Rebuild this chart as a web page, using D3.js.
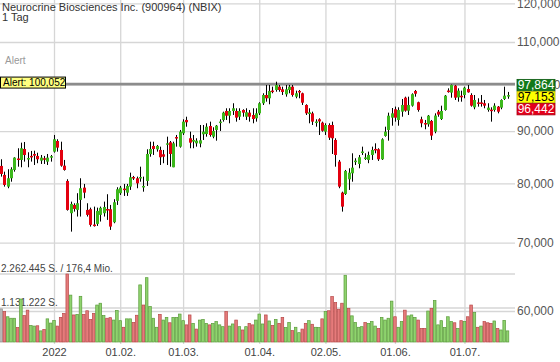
<!DOCTYPE html>
<html>
<head>
<meta charset="utf-8">
<script src="https://cdn.jsdelivr.net/npm/d3@7"></script>
<style>
  body { margin: 0; background: #fff; }
  svg { display: block; font-family: "Liberation Sans", Arial, sans-serif; }
</style>
</head>
<body>
<div id="div1"></div>
<script>
// Daily candles, 09.12.2021 - 21.07.2022 (one entry per trading day)
let opens = [83.2,81.53,79.41,80.92,82.45,84.6,84.33,86.44,84.5,85.1,85.47,85.09,84.2,84.65,84.01,84.95,
  85.92,88.01,86.25,83.25,80.43,74.79,76.2,75.35,77.07,79.23,75.35,75.47,72.9,73.01,74.51,74.79,75.5,75.47,73.29,76.9,
  78.24,79.05,78.34,79.41,81.15,80.92,81.0,79.3,80.43,85.47,87.03,86.38,86.25,85.41,87.55,87.75,82.95,88.8,86.89,89.55,
  92.28,88.55,87.88,87.55,87.5,89.35,89.41,91.03,88.87,90.22,91.85,92.28,94.17,93.17,94.17,94.17,92.96,94.38,92.96,93.81,93.32,92.63,
  93.67,95.82,97.62,96.9,98.6,98.73,99.47,98.88,97.77,98.73,99.47,97.25,98.51,98.0,95.45,93.53,93.67,91.8,92.42,91.72,
  89.88,91.24,91.24,88.21,84.01,78.34,78.11,80.74,81.83,84.05,83.57,85.85,84.7,84.33,85.28,86.45,86.38,84.46,89.01,90.22,92.76,
  94.53,92.28,94.02,97.03,94.23,95.3,98.51,96.04,92.42,91.65,91.38,92.07,89.88,94.02,92.48,94.38,98.6,98.14,99.7,97.1,97.45,
  97.62,98.95,97.62,94.95,96.0,96.0,95.82,94.38,94.45,94.38,95.09,94.88,96.75,97.45];
let highs = [84.46,82.13,82.58,82.95,84.85,86.58,87.68,87.81,85.8,86.06,86.11,85.72,85.28,85.09,85.47,85.28,
  89.21,88.35,87.87,84.33,80.74,76.77,76.49,78.24,80.92,79.89,76.49,75.74,75.91,75.74,75.91,76.77,78.06,76.2,77.19,79.3,
  79.53,79.89,79.89,81.95,81.35,81.22,83.06,81.22,86.38,87.87,87.87,87.22,86.89,86.25,88.87,88.01,87.87,89.21,90.22,92.42,
  92.96,89.88,89.21,88.55,91.24,91.24,91.59,91.93,90.77,91.24,92.42,94.02,94.74,94.74,95.82,94.74,94.74,94.53,94.74,94.38,94.74,94.74,
  96.04,98.0,99.85,99.85,99.47,100.59,99.85,99.47,99.85,99.85,99.85,98.58,98.73,98.14,95.6,94.74,94.02,92.42,92.63,91.93,
  91.59,91.59,91.93,88.55,84.33,78.51,82.45,82.76,85.6,84.65,85.28,86.89,85.6,85.92,86.89,87.55,86.58,88.55,90.89,93.81,94.8,
  95.1,94.95,96.75,97.25,97.25,97.99,98.73,96.16,92.96,92.28,93.32,92.28,93.67,94.38,95.3,97.62,99.1,99.95,99.85,99.1,98.58,
  99.47,99.85,98.0,97.62,96.9,97.62,96.53,95.82,94.95,95.82,95.23,96.68,99.47,98.3];
let lows = [81.22,79.41,79.12,80.3,82.13,83.06,82.95,84.01,82.95,84.01,83.38,83.71,83.57,83.57,83.38,84.01,
  85.73,85.92,83.06,82.32,75.23,71.75,75.06,74.23,74.23,77.36,74.23,72.57,72.57,72.68,73.4,74.23,73.67,72.03,73.12,76.2,
  77.94,77.76,77.76,78.82,80.61,79.12,80.3,78.51,79.53,84.95,85.28,85.92,83.38,83.71,83.38,83.06,82.95,86.89,86.7,89.21,
  90.89,86.58,86.58,86.89,86.77,88.21,88.87,88.87,88.55,88.07,90.02,91.93,92.28,91.59,93.32,91.93,92.28,92.96,92.28,91.93,91.59,91.93,
  93.32,95.45,96.16,95.6,98.0,98.35,98.35,97.62,97.25,98.0,97.25,96.9,96.9,95.45,93.32,91.59,91.24,90.89,89.21,89.88,
  89.21,88.21,85.47,83.06,79.12,75.06,77.94,78.82,80.3,83.38,82.76,85.28,84.33,83.71,84.33,85.6,84.14,84.33,88.87,88.07,91.1,
  91.93,91.1,92.96,94.02,93.32,95.09,97.25,94.02,90.77,90.36,90.89,88.21,89.55,92.96,92.28,94.23,98.14,97.03,96.53,96.16,96.16,
  96.9,98.14,95.09,94.53,95.09,95.09,94.74,94.02,91.93,94.02,93.67,94.53,96.53,96.8];
let closes = [81.71,79.71,80.92,82.58,84.77,84.5,86.58,85.28,84.7,84.95,85.15,84.46,84.77,84.5,84.77,85.05,
  88.35,86.7,83.25,82.45,75.35,76.37,75.52,76.49,79.12,78.34,74.51,72.85,72.75,75.18,75.7,75.85,75.4,72.57,76.66,78.94,
  79.23,78.95,79.53,81.1,81.05,80.0,81.15,79.53,85.47,86.44,86.44,87.03,84.84,84.95,87.55,85.47,87.55,88.7,89.88,91.93,
  91.8,87.68,88.21,88.07,88.15,89.88,90.89,89.21,90.02,91.1,91.95,93.81,93.17,94.17,94.74,92.76,94.17,93.81,93.9,92.96,92.48,93.67,
  95.82,97.62,96.9,98.51,98.45,99.85,98.73,98.29,98.88,99.47,97.62,98.0,98.22,95.94,93.67,93.88,91.93,91.96,91.98,90.06,
  91.24,88.67,88.55,85.28,79.41,75.91,82.27,81.95,82.88,84.2,84.84,85.95,84.8,85.28,86.25,86.3,84.46,88.35,89.88,93.17,93.67,
  92.76,94.38,95.45,94.23,95.45,97.8,97.9,94.38,91.59,91.5,93.17,89.08,93.2,93.4,94.17,97.47,98.5,99.85,97.03,98.58,97.35,
  99.24,98.22,95.3,96.53,95.9,95.95,95.3,94.88,94.3,95.3,94.02,96.53,97.47,97.6];
let volumes = [1100000,1010000,840000,790000,790000,480000,1430000,880000,1060000,550000,530000,540000,370000,420000,770000,630000,
  720000,530000,820000,950000,2262445,1560000,900000,920000,1520000,920000,1040000,750000,950000,1230000,1290000,880000,790000,810000,730000,1050000,
  710000,490000,770000,770000,650000,890000,1900000,1230000,2140000,1180000,790000,490000,920000,730000,820000,640000,820000,820000,930000,710000,
  570000,900000,620000,430000,730000,750000,620000,570000,620000,680000,570000,510000,1010000,530000,600000,730000,510000,400000,510000,620000,570000,730000,
  930000,600000,900000,700000,550000,750000,620000,820000,480000,650000,380000,490000,310000,430000,620000,710000,590000,490000,480000,770000,
  1010000,1040000,1510000,1310000,1090000,1290000,2220000,1120000,870000,650000,490000,510000,650000,620000,680000,530000,450000,820000,730000,790000,1360000,
  840000,490000,680000,1060000,870000,900000,820000,730000,450000,450000,1030000,1120000,1380000,570000,710000,480000,840000,680000,640000,450000,710000,
  680000,840000,1230000,980000,490000,530000,680000,640000,620000,700000,450000,400000,720000,370000];

// Axis ticks
let priceTicks = [60, 70, 80, 90, 100, 110, 120];
let dateTickIndex = [16, 36, 55, 78, 98, 119, 140];
let dateTickLabels = ["2022", "01.02.", "01.03.", "01.04.", "02.05.", "01.06.", "01.07."];

// Alert level and the three quote boxes on the right
let alertLevel = 100.052;
let quoteValues = [97.864, 97.153, 96.442];
let turnoverText = "176,4 Mio.";
let titleText = "Neurocrine Biosciences Inc. (900964) (NBIX)";
let periodText = "1 Tag";

// svg attributes
let svgWidth = 560;
let svgHeight = 362;
let plotRight = 515;

let svg = d3.select("#div1")
  .append("svg")
  .attr("width", svgWidth)
  .attr("height", svgHeight);

// German number formats
let de = d3.formatLocale({decimal: ",", thousands: ".", grouping: [3], currency: ["", ""]});
let fmtPrice = de.format(".3f");
let fmtVol = de.format(",d");

// Scales
let xScale = d3.scaleLinear()
  .domain([0, closes.length - 1])
  .range([1.04, 507.5]);

let yScale = d3.scaleLog()
  .domain([60, 120])
  .range([311, 3.4]);

let vScale = d3.scaleLinear()
  .domain([0, d3.max(volumes)])
  .range([342, 274]);

// vertical grid + date labels
let xAxis = svg.append("g")
  .attr("transform", "translate(0,344)")
  .call(d3.axisBottom(xScale)
    .tickValues(dateTickIndex)
    .tickSize(-344)
    .tickPadding(4)
    .tickFormat((d, i) => dateTickLabels[i]));
xAxis.select(".domain").remove();
xAxis.selectAll(".tick line").attr("stroke", "#d6d6d6").attr("stroke-width", 1.3);
xAxis.selectAll(".tick text").attr("fill", "#444").attr("font-size", 11)
  .attr("font-family", "Liberation Sans, Arial, sans-serif");

// horizontal price grid + labels
let yAxis = svg.append("g")
  .attr("transform", `translate(${plotRight},0)`)
  .call(d3.axisRight(yScale)
    .tickValues(priceTicks)
    .tickSize(-plotRight)
    .tickPadding(2)
    .tickFormat(d => fmtPrice(d)));
yAxis.select(".domain").remove();
yAxis.selectAll(".tick line").attr("stroke", "#d6d6d6").attr("stroke-width", 1.3);
yAxis.selectAll(".tick text").attr("fill", "#555").attr("font-size", 12)
  .attr("font-family", "Liberation Sans, Arial, sans-serif");

// volume reference lines (max and half)
let vMax = d3.max(volumes);
let volLines = [vMax, vMax / 2];
svg.append("g").selectAll("line")
  .data(volLines)
  .enter()
  .append("line")
  .attr("x1", 0)
  .attr("x2", plotRight)
  .attr("y1", d => vScale(d))
  .attr("y2", d => vScale(d))
  .attr("stroke", "#d6d6d6")
  .attr("stroke-width", 1.3);

svg.append("g").selectAll("text")
  .data(volLines)
  .enter()
  .append("text")
  .attr("x", 1)
  .attr("y", d => vScale(d) - 2)
  .attr("font-size", 10)
  .attr("fill", "#444")
  .text((d, i) => fmtVol(Math.floor(d)) + " S." + (i === 0 ? " / " + turnoverText : ""));

// volume bars, coloured by close vs previous close
function volColor(i) {
  if (i === 0) return ["#b9b9b9", "#8c8c8c"];
  return closes[i] >= closes[i - 1] ? ["#8fd36e", "#5a9c3a"] : ["#e57b7b", "#b84848"];
}

svg.append("g").selectAll("rect")
  .data(volumes)
  .enter()
  .append("rect")
  .attr("x", (d, i) => xScale(i) - 1.3)
  .attr("width", 2.6)
  .attr("y", d => vScale(d))
  .attr("height", d => 342 - vScale(d))
  .attr("fill", (d, i) => volColor(i)[0])
  .attr("stroke", (d, i) => volColor(i)[1])
  .attr("stroke-width", 0.7);

// title
svg.append("text").attr("x", 2).attr("y", 10.5).attr("font-size", 11).attr("fill", "#333").text(titleText);
svg.append("text").attr("x", 2).attr("y", 21).attr("font-size", 11).attr("fill", "#333").text(periodText);
svg.append("text").attr("x", 5).attr("y", 64).attr("font-size", 10).attr("fill", "#999").text("Alert");

// alert line + label
let alertY = yScale(alertLevel);
svg.append("line")
  .attr("x1", 0).attr("x2", plotRight)
  .attr("y1", alertY).attr("y2", alertY)
  .attr("stroke", "#8c8c8c")
  .attr("stroke-width", 2.6);

let alertLabel = svg.append("g");
alertLabel.append("rect")
  .attr("x", 0.5).attr("y", alertY - 7)
  .attr("width", 65).attr("height", 11)
  .attr("fill", "#ffff80").attr("stroke", "#000").attr("stroke-width", 1);
alertLabel.append("text")
  .attr("x", 3).attr("y", alertY + 1.5)
  .attr("font-size", 10).attr("fill", "#000")
  .text("Alert: " + fmtPrice(alertLevel));

// candles
let idx = d3.range(closes.length);
let candles = svg.append("g").selectAll("g")
  .data(idx)
  .enter()
  .append("g");

candles.append("line")
  .attr("x1", i => Math.round(xScale(i)) + 0.5)
  .attr("x2", i => Math.round(xScale(i)) + 0.5)
  .attr("y1", i => yScale(highs[i]))
  .attr("y2", i => yScale(lows[i]))
  .attr("stroke", "#000")
  .attr("stroke-width", 1);

candles.append("rect")
  .attr("x", i => Math.round(xScale(i)) - 1)
  .attr("width", 3)
  .attr("y", i => yScale(Math.max(opens[i], closes[i])))
  .attr("height", i => Math.max(1.5, Math.abs(yScale(opens[i]) - yScale(closes[i]))))
  .attr("fill", i => closes[i] >= opens[i] ? "#3cb81c" : "#e3000f");

// quote boxes on the right (green / yellow last / red)
let boxH = 11.5;
let lastY = yScale(quoteValues[1]);
let boxFill = ["#13791a", "#ffff00", "#e3001b"];
let boxStroke = ["#0b5a10", "#b0b000", "#a80010"];
let boxText = ["#fff", "#000", "#fff"];
let boxes = svg.append("g").selectAll("g")
  .data(quoteValues)
  .enter()
  .append("g")
  .attr("transform", (d, i) => `translate(517,${lastY - boxH / 2 + (i - 1) * (boxH + 0.5)})`);

boxes.append("rect")
  .attr("width", 38).attr("height", boxH)
  .attr("fill", (d, i) => boxFill[i])
  .attr("stroke", (d, i) => boxStroke[i])
  .attr("stroke-width", 0.8);

boxes.append("text")
  .attr("x", 19).attr("y", boxH - 1.6)
  .attr("text-anchor", "middle")
  .attr("font-size", 12)
  .attr("fill", (d, i) => boxText[i])
  .text(d => fmtPrice(d));
</script>
</body>
</html>
